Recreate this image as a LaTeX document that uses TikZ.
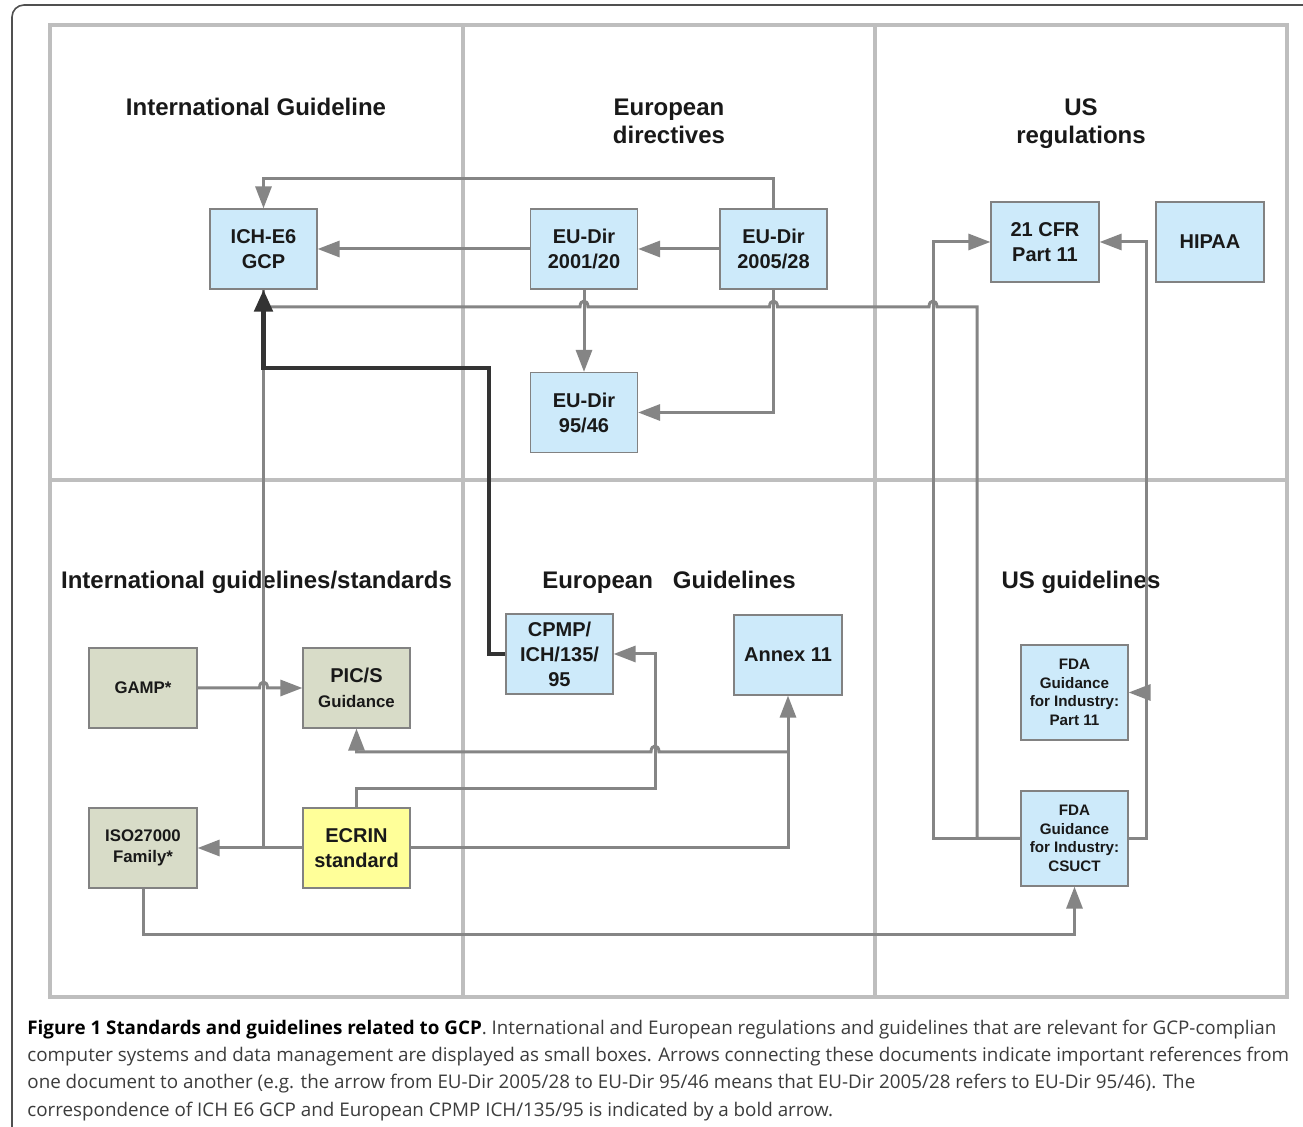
\documentclass[tikz,border=0pt]{standalone}
\usepackage{fontspec}
\setmainfont{Liberation Sans}
\newfontfamily\capfont[FakeStretch=1.0]{Open Sans}
\usetikzlibrary{arrows.meta,calc}
\definecolor{gridgray}{RGB}{190,190,190}
\definecolor{conngray}{RGB}{133,133,133}
\definecolor{boldgray}{RGB}{51,51,51}
\definecolor{boxblue}{RGB}{205,234,250}
\definecolor{boxgreen}{RGB}{216,220,200}
\definecolor{boxyellow}{RGB}{255,255,153}
\definecolor{boxedge}{RGB}{130,130,130}
\definecolor{framegray}{RGB}{80,80,80}
\definecolor{captext}{RGB}{60,60,60}
\tikzset{
 gridline/.style={draw=gridgray,line width=2pt},
 docbox/.style={draw=boxedge,line width=0.6pt,inner sep=0pt,align=center,
   minimum width=53.5pt,minimum height=40pt,text=black!90,
   font=\bfseries\fontsize{10}{12.5}\selectfont},
 bluebox/.style={docbox,fill=boxblue},
 greenbox/.style={docbox,fill=boxgreen},
 yellowbox/.style={docbox,fill=boxyellow},
 fdabox/.style={bluebox,minimum height=47.5pt,font=\bfseries\fontsize{7.6}{9.3}\selectfont},
 conn/.style={draw=conngray,line width=1.5pt,-{Triangle[length=11pt,width=8pt]}},
 connplain/.style={draw=conngray,line width=1.5pt},
 boldconn/.style={draw=boldgray,line width=2.4pt,-{Triangle[length=11pt,width=9pt]}},
 areatitle/.style={anchor=base,inner sep=0pt,text=black!90,font=\bfseries\fontsize{12}{14}\selectfont},
 capline/.style={anchor=base west,inner sep=0pt,text=captext,font=\capfont\fontsize{9.4}{12}\selectfont}
}
\begin{document}
\begin{tikzpicture}[x=0.5pt,y=-0.5pt]
\useasboundingbox (0,0) rectangle (1303,1127);
\clip (0,0) rectangle (1303,1127);
\fill[white] (0,0) rectangle (1303,1127);
% outer frame
\draw[framegray,line width=0.8pt,rounded corners=6pt] (12,5) rectangle (1340,1160);
% grid
\draw[gridline] (50,25) rectangle (1287,997);
\draw[gridline] (463,25) -- (463,997);
\draw[gridline] (875,25) -- (875,997);
\draw[gridline] (50,480) -- (1287,480);
% area titles
\node[areatitle] (t1) at (256,116) {International Guideline};
\node[areatitle] (t2a) at (669,116) {European};
\node[areatitle] (t2b) at (669,144) {directives};
\node[areatitle] (t3a) at (1081,116) {US};
\node[areatitle] (t3b) at (1081,144) {regulations};
\node[areatitle] (t4) at (256.5,589) {International guidelines/standards};
\node[areatitle] (t5) at (669,589) {European\ \ \ Guidelines};
\node[areatitle] (t6) at (1081,589) {US guidelines};
% boxes
\node[bluebox] (ich) at (263.5,249) {ICH-E6\\GCP};
\node[bluebox] (eu0120) at (584,249) {EU-Dir\\2001/20};
\node[bluebox] (eu0528) at (773.5,249) {EU-Dir\\2005/28};
\node[bluebox] (eu9546) at (584,412.5) {EU-Dir\\95/46};
\node[bluebox,minimum width=54pt] (cfr) at (1045,242) {21 CFR\\Part 11};
\node[bluebox,minimum width=54pt] (hipaa) at (1210,242) {HIPAA};
\node[greenbox,minimum width=54pt,font=\bfseries\fontsize{8.4}{10.5}\selectfont] (gamp) at (143,688) {GAMP*};
\node[greenbox] (pics) at (356.5,688) {PIC/S\\{\fontsize{8.4}{10}\selectfont Guidance}};
\node[greenbox,minimum width=54pt,font=\bfseries\fontsize{8.4}{10.5}\selectfont] (iso) at (143,848) {ISO27000\\Family*};
\node[yellowbox] (ecrin) at (356.5,848) {ECRIN\\standard};
\node[bluebox] (cpmp) at (559.5,654) {CPMP/\\ICH/135/\\95};
\node[bluebox,minimum width=54pt] (annex) at (788,655) {Annex 11};
\node[fdabox] (fdap11) at (1074.5,692.5) {FDA\\Guidance\\for Industry:\\Part 11};
\node[fdabox] (csuct) at (1074.5,838.5) {FDA\\Guidance\\for Industry:\\CSUCT};
% connectors
\draw[conn] (eu0528.north) -- ++(0,-30) -| (ich.north);
\draw[conn] (eu0120.west) -- (ich.east);
\draw[conn] (eu0528.west) -- (eu0120.east);
\draw[conn] (eu0120.south) -- (eu9546.north);
\draw[conn] (eu0528.south) |- (eu9546.east);
% CSUCT -> ICH (with jumps)
\draw[connplain] (csuct.west) -- (977,838.5) -- (977,307) -- (937,307)
  .. controls (937,299) and (929,299) .. (929,307) -- (777.5,307)
  .. controls (777.5,299) and (769.5,299) .. (769.5,307) -- (588,307)
  .. controls (588,299) and (580,299) .. (580,307) -- (ich.south |- 0,307);
% CSUCT -> 21 CFR (left)
\draw[conn] (csuct.west) -- (933,838.5) |- (cfr.west);
% CSUCT -> 21 CFR (right) and FDA Part 11
\draw[conn] (csuct.east) -- (1146,838.5) |- (cfr.east);
\coordinate (p11j) at (1146,692.5);
\draw[conn] (p11j) -- (fdap11.east);
% ECRIN -> ICH (gray, under bold)
\draw[connplain] (ich.south |- ecrin.west) -- (ich.south);
% GAMP -> PIC/S with jump
\draw[conn] (gamp.east) -- (259.5,688) .. controls (259.5,680) and (267.5,680) .. (267.5,688) -- (pics.west);
% ECRIN -> ISO
\draw[conn] (ecrin.west) -- (iso.east);
% ECRIN -> Annex 11
\draw[conn] (ecrin.east) -| (annex.south);
% branch -> PIC/S with jump
\draw[conn] (annex.south |- 0,752) -- (659,752) .. controls (659,744) and (651,744) .. (651,752) -- (pics.south |- 0,752) -- (pics.south);
% ECRIN -> CPMP
\draw[conn] (ecrin.north) -- ++(0,-19) -| (655,654) -- (cpmp.east);
% ISO -> CSUCT
\draw[conn] (iso.south) -- ++(0,46) -| (csuct.south);
% bold CPMP -> ICH
\draw[boldconn] (cpmp.west) -- (489,654) |- (263.5,368) -- (ich.south);
% caption
\node[capline] (c1) at (27,1035) {{\color{black}\bfseries Figure 1 Standards and guidelines related to GCP}. International and European regulations and guidelines that are relevant for GCP-complian};
\node[capline] (c2) at (27,1062) {computer systems and data management are displayed as small boxes. Arrows connecting these documents indicate important references from};
\node[capline] (c3) at (27,1089) {one document to another (e.g. the arrow from EU-Dir 2005/28 to EU-Dir 95/46 means that EU-Dir 2005/28 refers to EU-Dir 95/46). The};
\node[capline] (c4) at (27,1117) {correspondence of ICH E6 GCP and European CPMP ICH/135/95 is indicated by a bold arrow.};
\end{tikzpicture}
\end{document}
